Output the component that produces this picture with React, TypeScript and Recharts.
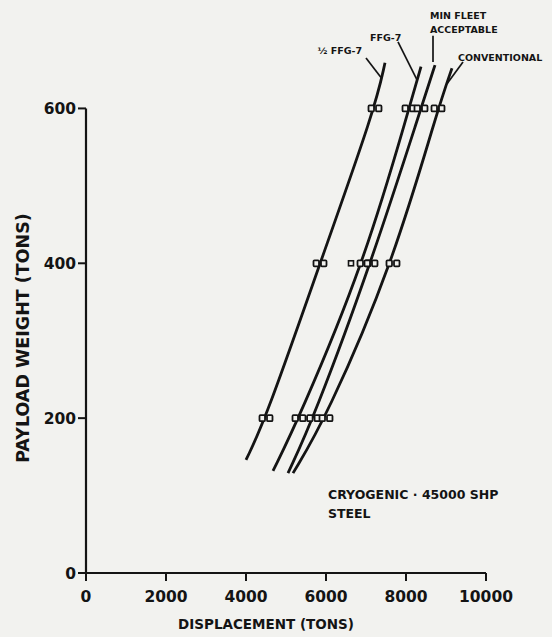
import React from 'react';
import { LineChart, Line, XAxis, YAxis, ReferenceLine, Scatter } from 'recharts';

const xTicks = [0, 2000, 4000, 6000, 8000, 10000];
const yTicks = [0, 200, 400, 600];
const markerLevels = [200, 400, 600];

const halfFfg7 = [
  { x: 4000, y: 146 },
  { x: 4500, y: 200 },
  { x: 5850, y: 400 },
  { x: 7225, y: 600 },
  { x: 7475, y: 659 },
];
const ffg7 = [
  { x: 4675, y: 132 },
  { x: 5325, y: 200 },
  { x: 6950, y: 400 },
  { x: 8075, y: 600 },
  { x: 8375, y: 654 },
];
const minFleet = [
  { x: 5050, y: 129 },
  { x: 5690, y: 200 },
  { x: 7125, y: 400 },
  { x: 8375, y: 600 },
  { x: 8725, y: 656 },
];
const conventional = [
  { x: 5175, y: 129 },
  { x: 6000, y: 200 },
  { x: 7675, y: 400 },
  { x: 8800, y: 600 },
  { x: 9150, y: 652 },
];
const strayMarkers = [{ x: 6625, y: 400 }];

const leaders = [
  [{ x: 7000, y: 665 }, { x: 7375, y: 640 }],
  [{ x: 7800, y: 686 }, { x: 8275, y: 637 }],
  [{ x: 8675, y: 694 }, { x: 8675, y: 660 }],
  [{ x: 9425, y: 660 }, { x: 9025, y: 632 }],
];

const INK = '#141414';
const BG = '#f2f2ef';
const FONT = '"DejaVu Sans", "Liberation Sans", sans-serif';

const PairDot = (props: any) => {
  const { cx, cy, payload, index } = props;
  if (!payload || markerLevels.indexOf(payload.y) < 0 || cx == null) {
    return <g key={`n${index}`} />;
  }
  return (
    <g key={`d${index}`}>
      <rect x={cx - 6.5} y={cy - 3} width={5.5} height={6} rx={1} fill={BG} stroke={INK} strokeWidth={1.8} />
      <rect x={cx + 1} y={cy - 3} width={5.5} height={6} rx={1} fill={BG} stroke={INK} strokeWidth={1.8} />
    </g>
  );
};

const SingleSquare = (props: any) => {
  const { cx, cy } = props;
  return <rect x={cx - 2.5} y={cy - 2.5} width={5} height={5} fill={BG} stroke={INK} strokeWidth={1.6} />;
};

const series = [halfFfg7, ffg7, minFleet, conventional];

export default function App() {
  return (
    <div style={{ position: 'absolute', left: 0, top: 0, width: 552, height: 637, background: BG, overflow: 'hidden' }}>
      <LineChart width={552} height={637} margin={{ top: 31, right: 66, bottom: 14, left: 0 }}>
        <XAxis
          type="number"
          dataKey="x"
          domain={[0, 10000]}
          ticks={xTicks}
          interval={0}
          axisLine={{ stroke: INK, strokeWidth: 2.2 }}
          tickLine={{ stroke: INK, strokeWidth: 2 }}
          tickSize={8}
          tickMargin={10}
          height={50}
          tick={{ fill: INK, fontSize: 15.5, fontWeight: 700, fontFamily: FONT }}
        />
        <YAxis
          type="number"
          dataKey="y"
          domain={[0, 700]}
          ticks={yTicks}
          interval={0}
          axisLine={false}
          tickLine={{ stroke: INK, strokeWidth: 2 }}
          tickSize={8}
          tickMargin={2}
          width={86}
          tick={{ fill: INK, fontSize: 15.5, fontWeight: 700, fontFamily: FONT }}
        />
        <ReferenceLine segment={[{ x: 0, y: 0 }, { x: 0, y: 600 }]} stroke={INK} strokeWidth={2.2} ifOverflow="visible" />
        {leaders.map((seg, i) => (
          <ReferenceLine key={`l${i}`} segment={seg} stroke={INK} strokeWidth={1.7} ifOverflow="visible" />
        ))}
        {series.map((d, i) => (
          <Line
            key={`s${i}`}
            data={d}
            dataKey="y"
            type="basis"
            stroke={INK}
            strokeWidth={2.8}
            dot={PairDot}
            activeDot={false}
            isAnimationActive={false}
          />
        ))}
        <Scatter data={strayMarkers} dataKey="y" shape={SingleSquare} isAnimationActive={false} />
      </LineChart>
      <svg width={552} height={637} style={{ position: 'absolute', left: 0, top: 0, pointerEvents: 'none' }}>
        <g fill={INK} fontFamily={FONT} fontWeight={700}>
          <text x={362} y={54} fontSize={9.5} textAnchor="end">½ FFG-7</text>
          <text x={370} y={41} fontSize={9.5}>FFG-7</text>
          <text x={430} y={19} fontSize={9.5}>MIN FLEET</text>
          <text x={430} y={33} fontSize={9.5}>ACCEPTABLE</text>
          <text x={458} y={61} fontSize={9.5}>CONVENTIONAL</text>
          <text x={328} y={499} fontSize={12.5}>CRYOGENIC · 45000 SHP</text>
          <text x={328} y={518} fontSize={12.5}>STEEL</text>
          <text x={266} y={629} fontSize={13.5} textAnchor="middle">DISPLACEMENT (TONS)</text>
          <text x={0} y={0} fontSize={17.5} textAnchor="middle" transform="translate(29 338) rotate(-90)">PAYLOAD WEIGHT (TONS)</text>
        </g>
      </svg>
    </div>
  );
}
